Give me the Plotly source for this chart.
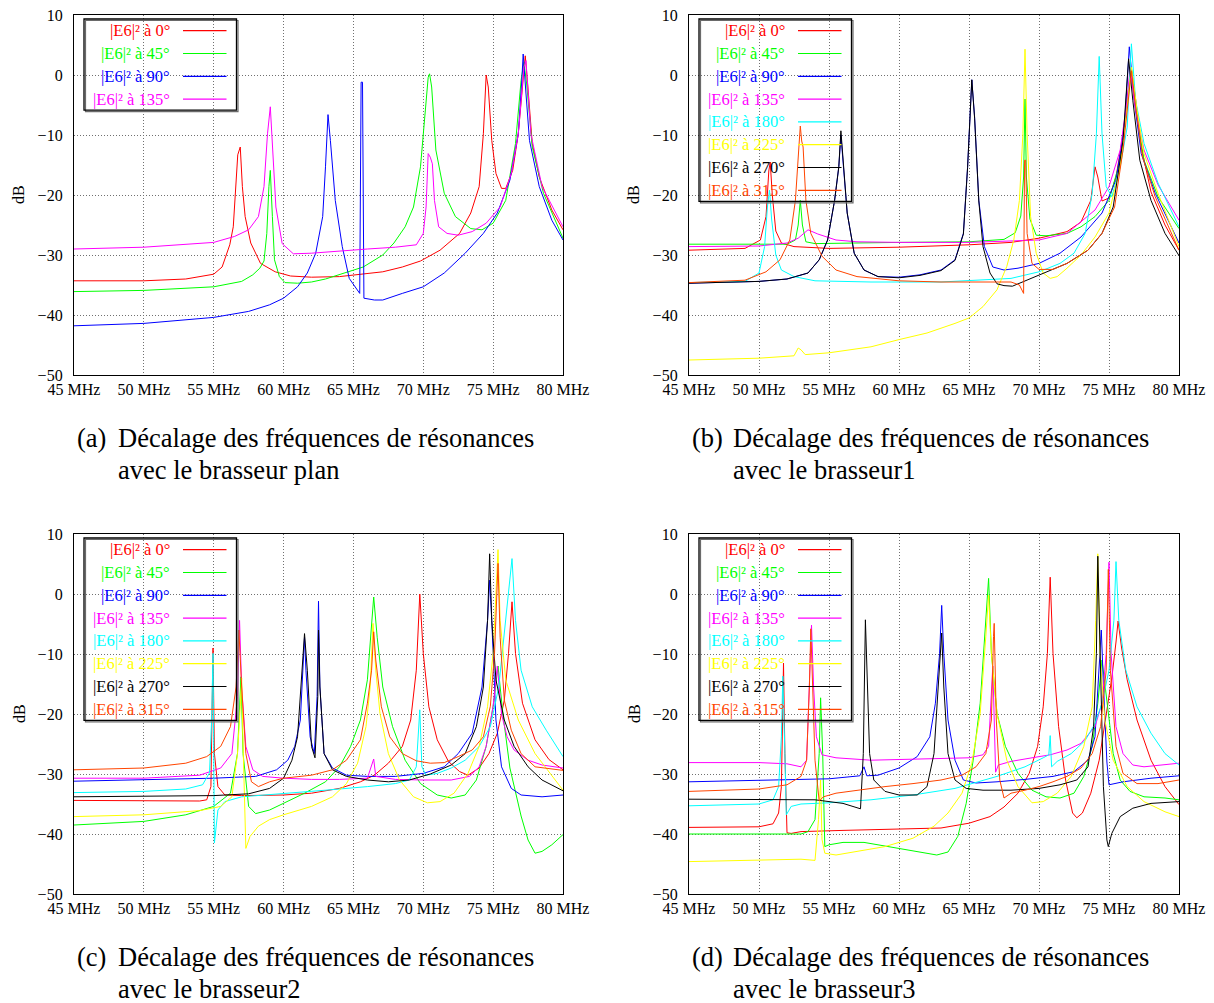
import plotly.graph_objects as go

# ---------------- data: (MHz, dB) points ----------------
ANGLES = [0, 45, 90, 135, 180, 225, 270, 315]
COLORS = ["#ff0000", "#00ff00", "#0000ff", "#ff00ff", "#00ffff", "#ffff00", "#000000", "#ff4500"]

X_TICKS = [45, 50, 55, 60, 65, 70, 75, 80]
X_TICKTEXT = ["45 MHz", "50 MHz", "55 MHz", "60 MHz", "65 MHz", "70 MHz", "75 MHz", "80 MHz"]
Y_TICKS = [-50, -40, -30, -20, -10, 0, 10]
Y_TICKTEXT = ["\u221250", "\u221240", "\u221230", "\u221220", "\u221210", "0", "10"]

CAPTION_TAGS = ["(a)", "(b)", "(c)", "(d)"]
CAPTION_LINE1 = "Décalage des fréquences de résonances"
CAPTION_LINE2 = ["avec le brasseur plan", "avec le brasseur1", "avec le brasseur2", "avec le brasseur3"]

# Panel (a) : brasseur plan
a_0 = [(45, -34.3), (50, -34.3), (53, -34.0), (55, -33.2), (55.6, -32.0), (56.15, -28.3), (56.4, -25.3),
       (56.6, -18.6), (56.72, -13.3), (56.9, -12.0), (57.05, -18.6), (57.25, -23.6), (57.65, -28.0),
       (58.35, -31.4), (59.4, -32.8), (60.5, -33.5), (62, -33.7), (64, -33.6), (65.7, -33.2), (67.1, -32.8),
       (68.5, -32.0), (69.8, -31.0), (71.2, -29.2), (72.6, -26.4), (73.4, -23.0), (74.0, -18.6), (74.3, -9.8),
       (74.5, 0.0), (74.65, -2.0), (74.9, -10.9), (75.2, -16.4), (75.6, -18.9), (75.9, -18.9), (76.4, -15.9),
       (76.8, -9.8), (77.1, -1.5), (77.3, 3.2), (77.45, -0.9), (77.8, -11.4), (78.3, -17.0), (79.2, -22.5),
       (80, -25.8)]
a_45 = [(45, -36.1), (50, -35.9), (55, -35.3), (57, -34.4), (57.8, -33.3), (58.3, -32.2), (58.6, -31.0),
        (58.8, -26.4), (58.95, -18.6), (59.05, -15.9), (59.2, -23.6), (59.35, -30.8), (59.7, -33.6),
        (60.1, -34.6), (61, -34.7), (62, -34.5), (63, -34.0), (64.4, -33.0), (65.7, -32.0), (67.1, -30.0),
        (67.9, -28.0), (68.7, -25.3), (69.3, -22.0), (69.8, -15.3), (70.1, -7.0), (70.35, -0.4), (70.45, 0.2),
        (70.6, -2.0), (70.9, -12.5), (71.5, -19.7), (72.3, -23.6), (73.4, -25.6), (74.2, -25.8), (75, -24.7),
        (75.9, -20.9), (76.6, -11.4), (77.0, -0.9), (77.2, 2.1), (77.4, -1.5), (77.8, -12.0), (78.6, -19.7),
        (80, -27.2)]
a_90 = [(45, -41.8), (50, -41.4), (55, -40.4), (57.5, -39.4), (59, -38.3), (60, -37.2), (61, -35.3),
        (61.7, -33.0), (62.3, -29.7), (62.8, -23.6), (63.0, -15.3), (63.18, -6.6), (63.35, -10.9),
        (63.7, -20.9), (64.2, -28.6), (64.7, -33.9), (65.45, -36.4), (65.55, -1.2), (65.65, -1.2),
        (65.75, -37.2), (66.5, -37.5), (67.1, -37.5), (68.5, -36.4), (70, -35.3), (71.5, -33.0), (73, -29.7),
        (74.3, -26.4), (75.3, -23.0), (76.2, -17.5), (76.8, -9.8), (77.05, -1.0), (77.15, 3.5), (77.3, -1.5),
        (77.6, -10.9), (78.3, -18.6), (79.2, -24.2), (80, -27.5)]
a_135 = [(45, -29.0), (50, -28.7), (55, -27.9), (56.5, -26.9), (57.5, -25.8), (58.2, -23.6), (58.6, -18.6),
         (58.85, -9.8), (59.05, -5.3), (59.2, -10.9), (59.45, -22.0), (59.9, -28.1), (60.7, -29.8), (62, -29.7),
         (64, -29.3), (66, -29.0), (68, -28.7), (69.5, -28.3), (70, -26.4), (70.2, -22.0), (70.35, -13.1),
         (70.5, -13.7), (70.65, -14.8), (70.8, -20.9), (71.1, -25.3), (71.7, -26.4), (72.5, -26.7),
         (73.5, -26.1), (74.5, -24.7), (75.5, -22.0), (76.3, -16.4), (76.8, -9.8), (77.2, 1.3), (77.35, 2.4),
         (77.7, -9.8), (78.5, -18.6), (80, -25.3)]

# Panel (b) : brasseur1
b_0 = [(45, -29.2), (49, -28.9), (50.1, -27.5), (50.5, -23.6), (50.7, -16.0), (50.8, -14.5), (50.95, -20.0),
       (51.2, -26.0), (51.6, -28.0), (52.5, -28.6), (55, -28.9), (60, -28.7), (65, -28.3), (68, -27.9),
       (70, -27.2), (72, -26.1), (73, -24.5), (73.7, -20.9), (74.0, -15.3), (74.2, -17.0), (74.5, -21.0),
       (75, -20.5), (75.5, -17.0), (76, -10.0), (76.4, -2.0), (76.6, 1.0), (76.9, -4.0), (77.3, -12.0),
       (78, -19.5), (79, -25.0), (80, -29.2)]
b_45 = [(45, -28.2), (52, -28.2), (52.6, -27.5), (52.8, -25.0), (52.95, -20.9), (53.1, -25.0), (53.35, -27.8),
        (54, -28.1), (60, -27.9), (65, -27.8), (67.5, -27.4), (68.3, -26.3), (68.7, -23.5), (68.9, -17.0),
        (69.0, -4.0), (69.1, -17.0), (69.35, -24.0), (69.8, -26.7), (70.5, -26.8), (72, -26.4), (73, -25.3),
        (74, -23.6), (75, -20.9), (75.8, -14.2), (76.3, -4.2), (76.6, 1.3), (77, -7.0), (77.5, -14.2),
        (78.5, -20.3), (80, -25.6)]
b_90 = [(45, -34.7), (50, -34.4), (52, -34.0), (53.5, -33.0), (54.3, -30.8), (54.9, -27.5), (55.4, -20.9),
        (55.7, -15.3), (55.85, -10.0), (56.0, -14.2), (56.3, -23.0), (56.8, -29.7), (57.5, -32.5), (58.5, -33.6),
        (60, -33.7), (61.5, -33.3), (63, -32.5), (64, -30.8), (64.6, -26.4), (64.9, -15.3), (65.1, -4.2),
        (65.2, -0.8), (65.4, -7.0), (65.7, -20.9), (66.1, -28.6), (66.7, -32.0), (67.5, -32.5), (68.5, -32.2),
        (70, -31.4), (71.5, -29.7), (73, -27.0), (74.5, -23.0), (75.5, -17.5), (76.1, -8.7), (76.45, 4.7),
        (76.8, -4.2), (77.3, -13.1), (78.3, -19.7), (80, -28.0)]
b_135 = [(45, -28.6), (50, -28.5), (52, -28.0), (52.8, -27.2), (53.5, -25.8), (54.2, -26.5), (55.5, -27.5),
         (57, -27.8), (60, -27.9), (65, -27.9), (70, -27.5), (72, -26.4), (74, -22.5), (75, -18.6),
         (75.8, -12.5), (76.3, -4.2), (76.5, 1.3), (76.9, -5.8), (77.5, -12.5), (78.5, -18.3), (80, -24.2)]
b_180 = [(45, -34.6), (49, -34.4), (50, -33.0), (50.4, -28.6), (50.6, -22.0), (50.75, -19.2), (50.9, -24.0),
         (51.2, -30.0), (51.6, -32.5), (52.5, -33.6), (54, -34.3), (58, -34.5), (63, -34.5), (66, -34.2),
         (68, -33.9), (70, -32.8), (71.5, -31.4), (72.5, -29.7), (73.3, -26.4), (73.8, -19.7), (74.1, -9.8),
         (74.3, 3.1), (74.5, -9.8), (74.8, -18.6), (75.2, -20.3), (75.8, -15.3), (76.3, -8.7), (76.6, 5.2),
         (76.9, -4.2), (77.5, -11.4), (78.5, -18.0), (80, -25.3)]
b_225 = [(45, -47.5), (50, -47.2), (52.5, -46.8), (52.8, -45.5), (53.0, -45.8), (53.3, -46.6), (55, -46.3),
         (58, -45.3), (60, -44.1), (62, -43.0), (64, -41.4), (65, -40.5), (66, -38.6), (67, -35.8), (67.7, -31.9),
         (68.2, -27.5), (68.6, -20.9), (68.85, -9.8), (69.0, 4.3), (69.15, -9.8), (69.4, -23.6), (69.8, -29.7),
         (70.3, -33.0), (70.8, -33.9), (71.3, -33.6), (72, -32.2), (73, -30.0), (74, -27.0), (75, -23.0),
         (75.8, -15.3), (76.3, -5.3), (76.6, 1.3), (77, -5.8), (77.5, -13.1), (78.5, -19.7), (80, -28.6)]
b_270 = [(45, -34.7), (50, -34.4), (52, -34.0), (53.5, -33.0), (54.3, -30.8), (54.9, -27.5), (55.4, -20.9),
         (55.7, -15.3), (55.85, -9.3), (56.0, -14.2), (56.3, -23.0), (56.8, -29.7), (57.5, -32.5), (58.5, -33.6),
         (60, -33.8), (61.5, -33.4), (63, -32.6), (64, -30.9), (64.6, -26.5), (64.9, -15.4), (65.1, -4.3),
         (65.2, -0.8), (65.4, -7.2), (65.7, -21.0), (66.0, -28.6), (66.5, -33.0), (67.0, -34.8), (67.5, -35.1),
         (68.1, -35.2), (68.6, -34.7), (69.5, -33.9), (70.5, -32.8), (72, -31.4), (73.5, -29.2), (74.5, -26.4),
         (75.3, -22.0), (76, -10.9), (76.4, 2.7), (76.7, -4.2), (77.2, -14.2), (78, -20.9), (79, -26.4),
         (80, -30.1)]
b_315 = [(45, -34.6), (49, -34.2), (50.5, -32.8), (51.5, -30.8), (52.2, -27.5), (52.6, -20.9), (52.85, -12.0),
         (52.95, -8.5), (53.05, -11.0), (53.15, -12.0), (53.35, -20.9), (53.7, -26.4), (54.5, -30.2),
         (55.5, -32.5), (57, -33.6), (60, -34.3), (63, -34.5), (66, -34.5), (68, -34.5), (68.6, -35.0),
         (68.9, -36.4), (68.97, -14.2), (69.05, -14.2), (69.15, -26.4), (69.5, -31.4), (70, -32.4), (71, -32.4),
         (72, -31.4), (73.5, -29.2), (74.5, -26.4), (75.4, -22.0), (76, -12.5), (76.4, -3.1), (76.6, 0.7),
         (76.9, -5.3), (77.4, -13.7), (78.3, -20.3), (80, -29.2)]

# Panel (c) : brasseur2
c_0 = [(45, -34.4), (50, -34.4), (54, -34.5), (54.5, -34.3), (54.8, -32.1), (54.95, -9.0), (55.05, -26.6),
       (55.3, -32.1), (55.8, -33.5), (57, -33.6), (60, -33.5), (62, -33.2), (64, -32.4), (65.5, -31.3),
       (66.5, -30.2), (67.5, -28.2), (68.5, -25.4), (69.1, -21.0), (69.5, -12.7), (69.75, 0.0), (70, -9.9),
       (70.4, -18.8), (71, -24.3), (71.8, -27.9), (72.6, -29.6), (73.2, -30.2), (74, -29.0), (74.7, -26.6),
       (75.3, -23.2), (75.8, -17.7), (76.1, -9.9), (76.35, -1.3), (76.6, -9.9), (77.1, -18.2), (78, -24.3),
       (79, -27.6), (80, -29.3)]
c_45 = [(45, -38.5), (50, -37.9), (53, -36.8), (55, -35.4), (56.2, -33.2), (56.7, -26.6), (56.95, -13.8),
        (57.1, -26.6), (57.5, -35.4), (58.0, -36.6), (59, -36.0), (60, -34.9), (61.5, -33.2), (63, -31.3),
        (64, -28.8), (64.8, -25.4), (65.5, -21.0), (66, -14.3), (66.3, -4.4), (66.45, -0.5), (66.7, -7.2),
        (67.1, -15.5), (67.8, -22.1), (68.7, -27.7), (69.8, -31.6), (71, -33.5), (72, -34.0), (73, -33.5),
        (73.8, -31.0), (74.5, -25.4), (75, -18.7), (75.35, -12.0), (75.7, -20.0), (76.2, -29.0), (77, -37.0),
        (77.5, -41.0), (78, -43.2), (78.5, -42.9), (79.2, -41.8), (80, -40.1)]
c_90 = [(45, -31.2), (50, -31.0), (55, -30.7), (58, -30.4), (59.5, -29.3), (60.3, -27.7), (60.8, -25.4),
        (61.2, -21.0), (61.4, -12.7), (61.5, -7.2), (61.6, -12.7), (61.9, -23.8), (62.2, -26.6), (62.4, -17.1),
        (62.5, -1.2), (62.6, -15.5), (62.9, -26.6), (63.5, -29.0), (64.5, -30.2), (66, -30.4), (68, -30.4),
        (70, -29.9), (71.5, -28.8), (72.5, -26.6), (73.5, -23.2), (74.2, -15.5), (74.6, -4.4), (74.75, 2.3),
        (74.9, -4.4), (75.2, -21.0), (75.6, -28.8), (76.3, -32.4), (77, -33.5), (78.5, -33.8), (80, -33.5)]
c_135 = [(45, -30.7), (50, -30.7), (54, -30.2), (55.5, -29.0), (56.3, -26.6), (56.7, -17.1), (56.85, -4.4),
         (57.0, -15.5), (57.3, -25.4), (57.8, -29.3), (58.5, -30.4), (60, -30.7), (62, -30.9), (64, -30.9),
         (66, -30.7), (66.35, -28.0), (66.45, -27.5), (66.6, -30.4), (68, -30.9), (70, -31.0), (72, -31.0),
         (73.3, -30.4), (74, -28.8), (74.5, -25.4), (75, -18.7), (75.3, -12.0), (75.6, -20.0), (76, -23.8),
         (76.5, -26.0), (77.5, -27.7), (78.5, -28.5), (80, -29.0)]
c_180 = [(45, -33.1), (50, -32.9), (53, -32.5), (54.2, -31.8), (54.7, -29.8), (54.85, -21.0), (54.95, -9.9),
         (55.05, -41.5), (55.3, -36.0), (55.8, -34.6), (57, -33.8), (60, -33.3), (63, -32.7), (66, -32.1),
         (68, -31.6), (69, -31.0), (69.5, -28.8), (69.75, -19.3), (69.9, -28.8), (70.2, -30.2), (71, -29.9),
         (72, -29.0), (73, -27.7), (74, -25.4), (74.8, -22.1), (75.4, -15.5), (75.9, -4.4), (76.35, 5.9),
         (76.6, -4.4), (77, -12.7), (77.8, -18.8), (78.8, -22.7), (80, -27.1)]
c_225 = [(45, -37.1), (50, -36.8), (54, -36.1), (55.5, -35.4), (56.3, -33.8), (56.7, -26.6), (56.9, -18.8),
         (57.0, -14.0), (57.1, -25.0), (57.3, -42.4), (57.6, -40.4), (58.2, -38.7), (59, -37.6), (60, -36.8),
         (62, -35.4), (63.5, -33.8), (64.5, -31.6), (65.3, -28.2), (65.9, -22.1), (66.2, -15.5), (66.4, -4.9),
         (66.6, -12.7), (66.9, -19.9), (67.5, -26.6), (68.3, -31.0), (69.3, -33.8), (70.3, -34.8), (71.2, -34.6),
         (72.2, -33.2), (73.2, -29.9), (74, -25.4), (74.6, -18.8), (75, -9.9), (75.25, 1.2), (75.35, 7.4),
         (75.5, -4.4), (75.9, -14.3), (76.8, -21.0), (78, -26.6), (80, -32.7)]
c_270 = [(45, -33.8), (55, -33.6), (57.5, -33.3), (59, -32.4), (60, -30.7), (60.6, -27.7), (61, -23.8),
         (61.3, -12.7), (61.5, -6.6), (61.7, -12.7), (62, -25.4), (62.25, -27.3), (62.45, -17.1), (62.5, -6.0),
         (62.6, -15.5), (62.9, -26.6), (63.5, -29.3), (64.5, -30.4), (66, -31.0), (67.5, -31.3), (69, -31.0),
         (70.5, -30.0), (72, -28.5), (73, -26.6), (73.8, -22.1), (74.3, -15.5), (74.6, -4.4), (74.75, 6.7),
         (74.9, -4.4), (75.2, -14.3), (75.8, -21.0), (76.5, -25.4), (77.5, -28.8), (78.5, -31.0), (80, -32.8)]
c_315 = [(45, -29.3), (50, -29.0), (53, -28.2), (54.5, -27.1), (55.5, -25.4), (56.2, -22.1), (56.6, -15.5),
         (56.8, -6.0), (57.0, -15.5), (57.3, -26.6), (57.7, -31.3), (58.2, -32.1), (59, -31.3), (60, -30.7),
         (62, -30.2), (63.5, -29.3), (64.5, -27.7), (65.5, -24.3), (66, -18.2), (66.3, -12.7), (66.45, -6.3),
         (66.6, -11.0), (67, -18.8), (67.6, -23.8), (68.5, -26.6), (69.5, -27.8), (70.5, -28.2), (71.5, -28.1),
         (72.5, -27.1), (73.5, -26.0), (74.3, -23.8), (74.8, -18.7), (75.1, -9.9), (75.35, 5.1), (75.5, -7.2),
         (75.8, -17.7), (76.3, -22.7), (77, -26.6), (78, -28.8), (80, -29.4)]

# Panel (d) : brasseur3
d_0 = [(45, -38.9), (50, -38.8), (51, -38.3), (51.4, -36.5), (51.6, -32.1), (51.75, -11.5), (51.85, -26.6),
       (52.0, -39.8), (52.3, -39.9), (53, -39.6), (56, -39.4), (60, -39.2), (63, -39.0), (65, -38.2),
       (66.5, -37.1), (67.5, -35.5), (68.5, -33.2), (69.3, -29.9), (69.9, -25.4), (70.3, -18.8), (70.6, -9.9),
       (70.8, 2.8), (71.0, -9.9), (71.4, -22.1), (71.9, -31.0), (72.4, -36.5), (72.7, -37.3), (73.1, -36.5),
       (73.7, -33.2), (74.3, -27.7), (74.8, -20.0), (75.2, -14.0), (75.5, -8.0), (75.65, -4.5), (75.9, -9.0),
       (76.3, -14.3), (77, -21.0), (78, -27.7), (79, -32.1), (80, -35.1)]
d_45 = [(45, -40.0), (50, -40.0), (53, -40.0), (53.5, -39.6), (54, -37.6), (54.3, -26.6), (54.4, -17.3),
        (54.55, -26.6), (54.7, -42.1), (55, -41.8), (56, -41.4), (57.5, -41.4), (59, -42.0), (61, -42.8),
        (62.7, -43.5), (63.5, -43.0), (64.2, -40.4), (64.8, -34.9), (65.3, -27.7), (65.8, -18.2), (66.2, -4.4),
        (66.4, 2.6), (66.6, -9.9), (67, -19.9), (67.6, -25.4), (68.5, -29.9), (69.5, -32.7), (70.5, -33.8),
        (71.5, -34.0), (72.5, -33.2), (73.2, -30.4), (73.8, -25.4), (74.2, -18.2), (74.5, -11.0), (74.9, -18.8),
        (75.3, -26.6), (75.8, -31.0), (76.5, -32.9), (77.5, -33.8), (79, -34.0), (80, -34.3)]
d_90 = [(45, -31.3), (50, -31.1), (55, -30.8), (57.2, -30.3), (57.5, -28.8), (57.7, -30.3), (58.5, -30.2),
        (60, -29.0), (61.3, -27.1), (62.2, -23.8), (62.6, -18.2), (62.9, -9.9), (63.05, -1.9), (63.2, -9.9),
        (63.5, -21.0), (64, -27.7), (64.6, -31.0), (65.5, -31.5), (67, -31.3), (69, -30.9), (71, -30.4),
        (72.5, -29.6), (73.5, -27.7), (74, -23.8), (74.3, -12.0), (74.45, -6.0), (74.6, -15.0), (74.85, -28.0),
        (75.0, -31.8), (76, -31.3), (78, -30.7), (80, -30.3)]
d_135 = [(45, -28.1), (50, -28.1), (52, -28.3), (53, -28.8), (53.4, -27.7), (53.6, -15.5), (53.75, -5.2),
         (53.9, -15.5), (54.1, -23.8), (54.5, -26.8), (55.5, -27.3), (58, -27.7), (62, -27.5), (65, -27.3),
         (66, -26.8), (66.4, -25.4), (66.7, -12.0), (66.9, -29.7), (67.1, -28.5), (68, -27.9), (69.5, -27.3),
         (70.8, -26.8), (72, -26.0), (73, -24.9), (74, -22.1), (74.5, -18.2), (74.8, -9.9), (75.0, 5.3),
         (75.15, -9.9), (75.5, -22.1), (76, -26.6), (76.7, -28.5), (77.5, -28.8), (79, -28.5), (80, -28.2)]
d_180 = [(45, -35.3), (50, -35.0), (51, -34.3), (51.4, -32.1), (51.6, -23.8), (51.7, -13.7), (51.85, -26.6),
         (51.95, -36.8), (52.3, -35.4), (53, -35.0), (55, -34.8), (58, -34.3), (61, -33.5), (64, -32.4),
         (67, -30.4), (69, -28.8), (70.3, -27.3), (70.7, -26.8), (70.8, -23.6), (70.9, -28.8), (71.3, -27.9),
         (72.3, -26.6), (73.3, -24.4), (74, -21.6), (74.5, -18.2), (75, -12.7), (75.35, -4.4), (75.5, 5.4),
         (75.7, -4.4), (76.2, -12.7), (77, -18.8), (78, -23.2), (79, -26.6), (80, -28.5)]
d_225 = [(45, -44.6), (50, -44.3), (53, -44.2), (54, -44.4), (54.25, -37.6), (54.4, -31.0), (54.5, -40.9),
         (54.7, -43.2), (55.5, -43.5), (57, -42.9), (59, -42.1), (61, -40.7), (62.5, -38.7), (63.5, -36.5),
         (64.5, -33.2), (65.2, -28.2), (65.8, -19.9), (66.2, -7.1), (66.4, -0.2), (66.6, -9.9), (67, -19.9),
         (67.7, -27.7), (68.5, -32.1), (69.5, -34.8), (70.3, -34.6), (71.3, -33.2), (72.3, -30.4), (73.2, -25.4),
         (73.8, -18.8), (74.05, -4.4), (74.2, 6.7), (74.35, -9.9), (74.7, -21.0), (75.3, -27.7), (76.3, -32.1),
         (77.5, -34.6), (79, -36.3), (80, -37.1)]
d_270 = [(45, -34.2), (50, -34.2), (54, -34.3), (56, -34.9), (57.25, -35.8), (57.45, -26.6), (57.6, -4.3),
         (57.75, -15.5), (57.9, -26.6), (58.2, -31.0), (59, -32.9), (60, -33.5), (61.3, -33.5), (62, -32.1),
         (62.5, -26.6), (62.8, -15.5), (63.05, -6.5), (63.2, -15.5), (63.5, -26.6), (64, -31.0), (64.8, -32.4),
         (66, -32.7), (68, -32.7), (70, -32.4), (71.5, -31.8), (72.7, -31.0), (73.5, -28.8), (73.9, -22.1),
         (74.1, -9.9), (74.2, 6.3), (74.35, -9.9), (74.6, -32.1), (74.85, -41.0), (74.95, -42.1), (75.2, -39.9),
         (75.8, -37.1), (76.7, -35.7), (78, -34.9), (80, -34.6)]
d_315 = [(45, -32.9), (50, -32.5), (52, -31.8), (53, -30.4), (53.4, -27.7), (53.6, -15.5), (53.7, -5.8),
         (53.85, -15.5), (54.0, -27.7), (54.3, -34.5), (54.6, -33.8), (55.5, -33.2), (57, -32.7), (59, -32.1),
         (61, -31.6), (63, -31.0), (64.5, -30.2), (65.5, -28.8), (66.2, -26.6), (66.6, -21.0), (66.75, -7.1),
         (66.8, -4.9), (66.95, -21.0), (67.2, -31.0), (67.5, -34.0), (68, -33.2), (69, -32.7), (70, -32.1),
         (71, -31.3), (72, -30.4), (73, -29.0), (73.8, -26.6), (74.4, -22.1), (74.8, -12.7), (74.95, 4.1),
         (75.1, -12.7), (75.5, -25.4), (76, -29.9), (77, -31.6), (78.5, -31.6), (80, -31.0)]

PANEL_SERIES = [
    [a_0, a_45, a_90, a_135],
    [b_0, b_45, b_90, b_135, b_180, b_225, b_270, b_315],
    [c_0, c_45, c_90, c_135, c_180, c_225, c_270, c_315],
    [d_0, d_45, d_90, d_135, d_180, d_225, d_270, d_315],
]

# ---------------- layout geometry (pixels) ----------------
W, H = 1214, 1003
PANEL_PX = [(74, 563, 15, 375), (689, 1179, 15, 375), (74, 563, 534, 894), (689, 1179, 534, 894)]
SERIF = "Liberation Serif, Times New Roman, serif"

fig = go.Figure()
layout = dict(width=W, height=H, margin=dict(l=0, r=0, t=0, b=0, autoexpand=False),
              paper_bgcolor="white", plot_bgcolor="white", showlegend=False)
shapes, annotations = [], []

for p, (x0, x1, y0, y1) in enumerate(PANEL_PX):
    sfx = "" if p == 0 else str(p + 1)
    xa, ya = "x" + sfx, "y" + sfx
    axis_common = dict(showline=True, linecolor="black", linewidth=1.3, mirror=True, automargin=False,
                       showgrid=True, gridcolor="#707070", griddash="1px,2px", gridwidth=1,
                       zeroline=False, ticks="", tickfont=dict(family=SERIF, size=16, color="black"))
    layout["xaxis" + sfx] = dict(axis_common, domain=[x0 / W, x1 / W], anchor=ya, range=[45, 80],
                                 tickmode="array", tickvals=X_TICKS, ticktext=X_TICKTEXT)
    layout["yaxis" + sfx] = dict(axis_common, domain=[1 - y1 / H, 1 - y0 / H], anchor=xa, range=[-50, 10],
                                 tickmode="array", tickvals=Y_TICKS, ticktext=Y_TICKTEXT,
                                 ticklabelstandoff=7)

    series = PANEL_SERIES[p]
    for k, pts in enumerate(series):
        fig.add_trace(go.Scatter(x=[q[0] for q in pts], y=[q[1] for q in pts], mode="lines",
                                 line=dict(color=COLORS[k], width=1), xaxis=xa, yaxis=ya,
                                 hoverinfo="skip", name=f"|E6|² à {ANGLES[k]}°"))

    # manual gnuplot-style legend (text right, sample line)
    pw, ph = x1 - x0, y1 - y0
    n = len(series)
    box_bottom_px = 15.7 + 22.8 * (n - 1) + 11
    shapes.append(dict(type="rect", xref=xa + " domain", yref=ya + " domain",
                       x0=11.5 / pw, x1=164 / pw, y0=1 - (box_bottom_px + 1.5) / ph, y1=1 - 5.5 / ph,
                       line=dict(color="#6a6a6a", width=1.2), layer="above"))
    shapes.append(dict(type="rect", xref=xa + " domain", yref=ya + " domain",
                       x0=10 / pw, x1=162.5 / pw, y0=1 - box_bottom_px / ph, y1=1 - 4 / ph,
                       line=dict(color="black", width=1.3), layer="above"))
    for k in range(n):
        yc = 1 - (15.7 + 22.8 * k) / ph
        annotations.append(dict(xref=xa + " domain", yref=ya + " domain", x=98 / pw, y=yc,
                                xanchor="right", yanchor="middle", showarrow=False,
                                text=f"|E6|² à {ANGLES[k]}°",
                                font=dict(family=SERIF, size=16.5, color=COLORS[k])))
        shapes.append(dict(type="line", xref=xa + " domain", yref=ya + " domain",
                           x0=109 / pw, x1=152.5 / pw, y0=yc, y1=yc,
                           line=dict(color=COLORS[k], width=1.2), layer="above"))

    # y-axis label
    annotations.append(dict(xref=xa + " domain", yref=ya + " domain", x=-55 / pw, y=0.5,
                            xanchor="center", yanchor="middle", showarrow=False, textangle=-90,
                            text="dB", font=dict(family=SERIF, size=16, color="black")))

    # caption (two lines)
    cap_y = y1 + 63
    annotations.append(dict(xref="paper", yref="paper", x=(x0 + 1) / W, y=1 - cap_y / H,
                            xanchor="left", yanchor="middle", showarrow=False,
                            text=CAPTION_TAGS[p], font=dict(family=SERIF, size=26.5, color="black")))
    annotations.append(dict(xref="paper", yref="paper", x=(x0 + 42) / W, y=1 - cap_y / H,
                            xanchor="left", yanchor="middle", showarrow=False,
                            text=CAPTION_LINE1, font=dict(family=SERIF, size=26.5, color="black")))
    annotations.append(dict(xref="paper", yref="paper", x=(x0 + 42) / W, y=1 - (cap_y + 32) / H,
                            xanchor="left", yanchor="middle", showarrow=False,
                            text=CAPTION_LINE2[p], font=dict(family=SERIF, size=26.5, color="black")))

layout["shapes"] = shapes
layout["annotations"] = annotations
fig.update_layout(**layout)
fig.write_html("out.html", config={"displayModeBar": False},
               post_script="document.body.style.margin='0px';document.body.style.overflow='hidden';")
